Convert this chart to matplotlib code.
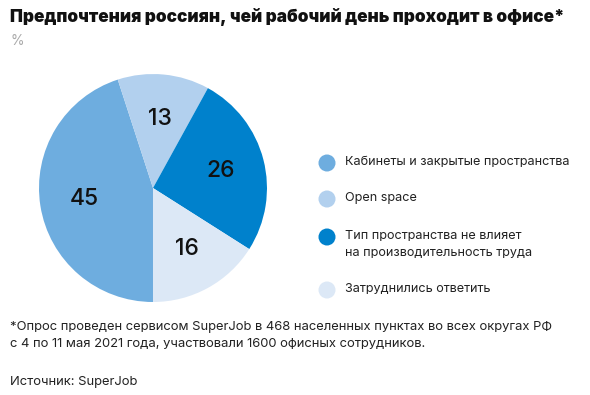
import matplotlib.pyplot as plt

plt.rcParams['font.family'] = ['Inter', 'DejaVu Sans']

# данные
categories = ['Кабинеты и закрытые пространства', 'Open space',
              'Тип пространства не влияет\nна производительность труда',
              'Затруднились ответить']
values = [45, 13, 26, 16]
colors = ['#6eaddf', '#b2d0ee', '#0081cc', '#dce8f6']

fig = plt.figure(figsize=(5.9, 3.95), dpi=100)

# pie
ax = fig.add_axes([0.0661, 0.2354, 0.3864, 0.5772])
wedges, texts = ax.pie(values, colors=colors, startangle=270, counterclock=False,
                       labels=[str(v) for v in values], labeldistance=0.61,
                       textprops=dict(fontsize=16.5, fontweight='medium', color='#111111',
                                      ha='center', va='center'),
                       wedgeprops=dict(linewidth=0))
ax.set_xlim(-1, 1)
ax.set_ylim(-1, 1)
ax.set_aspect('equal')

# overlay axes in pixel coords
lax = fig.add_axes([0, 0, 1, 1], facecolor='none')
lax.set_xlim(0, 590)
lax.set_ylim(395, 0)
lax.axis('off')

# legend
leg_y = [163, 199, 237, 290]
lax.scatter([327] * 4, leg_y, s=150, c=colors, linewidths=0)
for y, lab in zip(leg_y, categories):
    lines = lab.split('\n')
    lax.text(345, y - 1, lines[0], fontsize=9.1, va='center', ha='left', color='#222222')
    if len(lines) > 1:
        lax.text(345, y + 16, lines[1], fontsize=9.1, va='center', ha='left', color='#222222')

# titles
lax.text(10, 17, 'Предпочтения россиян, чей рабочий день проходит в офисе*', fontsize=12.4,
         fontweight='black', va='center', ha='left', color='#111111')
lax.text(10, 41, '%', fontsize=10, va='center', ha='left', color='#aaaaaa')

# footnote
lax.text(10, 327, '*Опрос проведен сервисом SuperJob в 468 населенных пунктах во всех округах РФ',
         fontsize=9.35, va='center', ha='left', color='#222222')
lax.text(10, 344, 'с 4 по 11 мая 2021 года, участвовали 1600 офисных сотрудников.',
         fontsize=9.35, va='center', ha='left', color='#222222')
lax.text(10, 382, 'Источник: SuperJob', fontsize=9.35, va='center', ha='left', color='#222222')

fig.savefig('out.png', dpi=100, facecolor='white')
